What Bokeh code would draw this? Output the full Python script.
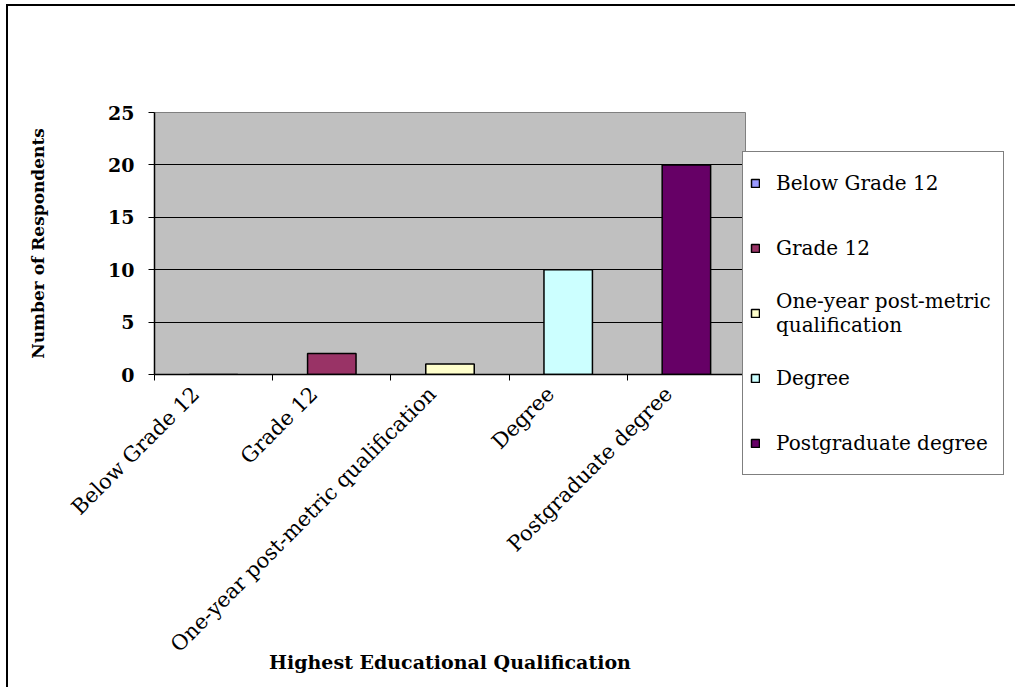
from math import pi

import numpy as np
from bokeh.embed import file_html
from bokeh.models import FixedTicker, Legend, LegendItem, Range1d
from bokeh.plotting import figure
from bokeh.resources import INLINE

# Survey data: highest educational qualification of respondents
categories = [
    "Below Grade 12",
    "Grade 12",
    "One-year post-metric qualification",
    "Degree",
    "Postgraduate degree",
]
legend_labels = [
    "Below Grade 12",
    "Grade 12",
    "One-year post-metric\nqualification",
    "Degree",
    "Postgraduate degree",
]
respondents = [0, 2, 1, 10, 20]
colors = ["#9999FF", "#993366", "#FFFFCC", "#CCFFFF", "#660066"]
y_ticks = [0, 5, 10, 15, 20, 25]

SERIF = "DejaVu Serif"

# one slot per category, bars centred in their slot
centers = np.arange(len(categories)) + 0.5
boundaries = list(range(len(categories) + 1))
# slanted labels hang slightly left of their slot centre
label_anchor = centers - 0.15

p = figure(
    frame_width=591,
    frame_height=262,
    min_border_left=146,
    min_border_right=270,
    min_border_top=106,
    min_border_bottom=313,
    x_range=Range1d(0, len(categories)),
    y_range=Range1d(0, 25),
    output_backend="svg",
    toolbar_location=None,
)
p.styles = {
    "border-left": "2px solid black",
    "border-top": "2px solid black",
    "margin-left": "6px",
    "margin-top": "4px",
}

p.background_fill_color = "#C0C0C0"
p.border_fill_color = "white"
p.outline_line_color = "#808080"
p.outline_line_width = 1

# bars, one renderer per category so each gets its own legend entry
items = []
for i, (cat, lab) in enumerate(zip(categories, legend_labels)):
    r = p.vbar(
        x=[centers[i]],
        top=[respondents[i]],
        bottom=0,
        width=0.41,
        fill_color=colors[i],
        line_color="black",
        line_width=1.5,
    )
    items.append(LegendItem(label=lab, renderers=[r]))

# x axis: ticks between categories, labels under each slot
xa = p.xaxis[0]
xa.ticker = FixedTicker(ticks=[float(v) for v in label_anchor], minor_ticks=boundaries)
xa.major_label_overrides = {float(v): cat for v, cat in zip(label_anchor, categories)}
xa.major_tick_in = 0
xa.major_tick_out = 0
xa.minor_tick_in = 0
xa.minor_tick_out = 6
xa.minor_tick_line_color = "black"
xa.axis_line_color = "black"
xa.axis_line_width = 1.5
xa.major_label_orientation = pi / 4
xa.major_label_standoff = 10
xa.major_label_text_font = SERIF
xa.major_label_text_font_size = "21px"
xa.major_label_text_color = "black"
xa.axis_label = "Highest Educational Qualification"
xa.axis_label_text_font = SERIF
xa.axis_label_text_font_style = "bold"
xa.axis_label_text_font_size = "19px"
xa.axis_label_text_color = "black"
xa.axis_label_standoff = -17

# y axis
ya = p.yaxis[0]
ya.ticker = FixedTicker(ticks=y_ticks)
ya.major_tick_in = 0
ya.major_tick_out = 6
ya.minor_tick_out = 0
ya.minor_tick_in = 0
ya.major_tick_line_color = "black"
ya.axis_line_color = "black"
ya.axis_line_width = 1.5
ya.major_label_standoff = 14
ya.major_label_text_font = SERIF
ya.major_label_text_font_style = "bold"
ya.major_label_text_font_size = "19px"
ya.major_label_text_color = "black"
ya.axis_label = "Number of Respondents"
ya.axis_label_text_font = SERIF
ya.axis_label_text_font_style = "bold"
ya.axis_label_text_font_size = "17px"
ya.axis_label_text_color = "black"
ya.axis_label_standoff = 57

p.xgrid.visible = False
p.ygrid.ticker = FixedTicker(ticks=[t for t in y_ticks if 0 < t < 25])
p.ygrid.grid_line_color = "black"
p.ygrid.grid_line_width = 1

legend = Legend(
    items=items,
    location=(-3, -101),
    orientation="vertical",
    glyph_width=10,
    glyph_height=10,
    label_standoff=16,
    label_width=220,
    label_height=48,
    spacing=17,
    padding=7,
    margin=0,
    label_text_font=SERIF,
    label_text_font_size="20px",
    label_text_color="black",
    border_line_color="black",
    border_line_width=1,
    background_fill_color="white",
    background_fill_alpha=1,
)
p.add_layout(legend, "right")

open("out.html", "w").write(file_html(p, INLINE))
